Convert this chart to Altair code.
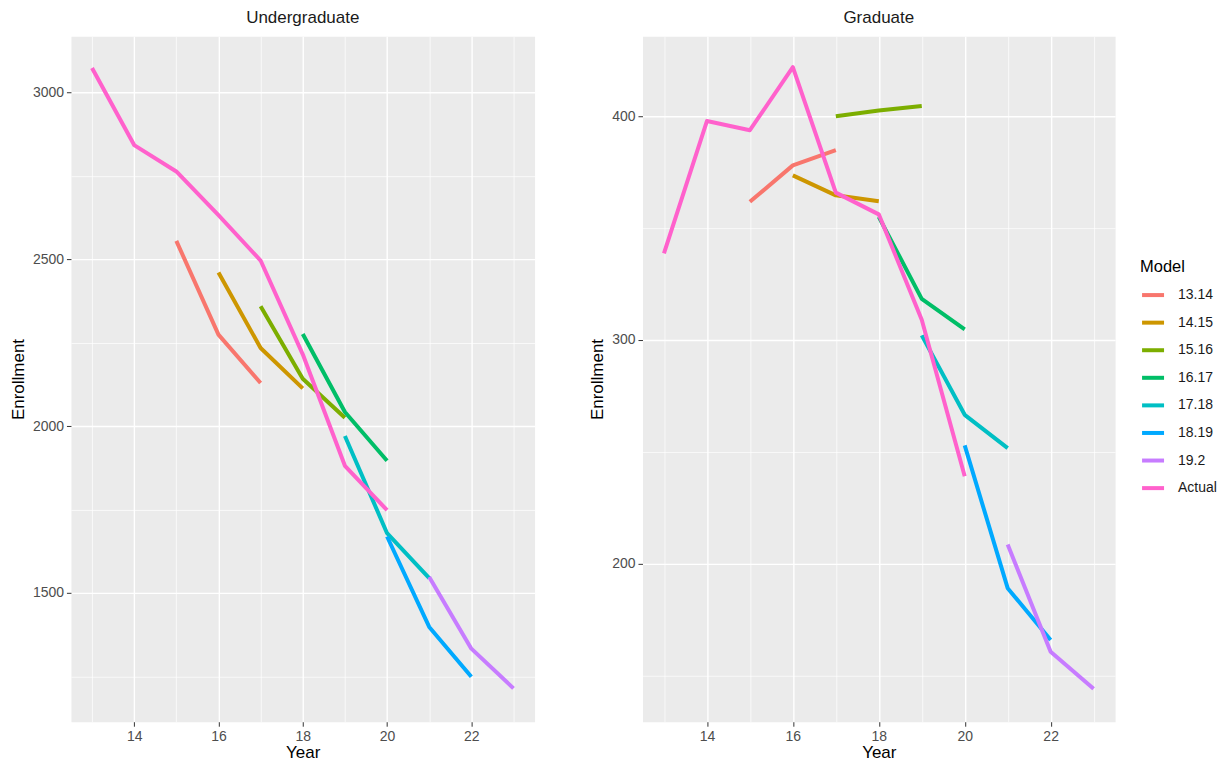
import altair as alt
import pandas as pd

models = ["13.14", "14.15", "15.16", "16.17", "17.18", "18.19", "19.2", "Actual"]
colors = ["#F8766D", "#CD9600", "#7CAE00", "#00BE67", "#00BFC4", "#00A9FF", "#C77CFF", "#FF61CC"]

years_1314 = [15, 16, 17]
years_1415 = [16, 17, 18]
years_1516 = [17, 18, 19]
years_1617 = [18, 19, 20]
years_1718 = [19, 20, 21]
years_1819 = [20, 21, 22]
years_192 = [21, 22, 23]
years_actual = [13, 14, 15, 16, 17, 18, 19, 20]

# Undergraduate
ug_1314 = [2555, 2274, 2129]
ug_1415 = [2460, 2234, 2113]
ug_1516 = [2359, 2142, 2025]
ug_1617 = [2276, 2042, 1896]
ug_1718 = [1970, 1679, 1544]
ug_1819 = [1669, 1398, 1249]
ug_192 = [1548, 1333, 1214]
ug_actual = [3073, 2842, 2763, 2632, 2496, 2215, 1881, 1748]

# Graduate
gr_1314 = [361.7, 378.0, 384.8]
gr_1415 = [373.5, 364.6, 362.0]
gr_1516 = [400.0, 402.5, 404.5]
gr_1617 = [355.0, 318.3, 304.7]
gr_1718 = [302.0, 266.5, 251.6]
gr_1819 = [252.8, 189.0, 165.8]
gr_192 = [208.5, 160.6, 144.0]
gr_actual = [338.7, 397.8, 393.7, 421.9, 365.8, 356.1, 309.0, 239.0]

x_grid = [13, 14, 15, 16, 17, 18, 19, 20, 21, 22, 23]
ug_grid = [1250, 1500, 1750, 2000, 2250, 2500, 2750, 3000]
gr_grid = [150, 200, 250, 300, 350, 400]

all_years = [years_1314, years_1415, years_1516, years_1617, years_1718, years_1819, years_192, years_actual]
ug_series = [ug_1314, ug_1415, ug_1516, ug_1617, ug_1718, ug_1819, ug_192, ug_actual]
gr_series = [gr_1314, gr_1415, gr_1516, gr_1617, gr_1718, gr_1819, gr_192, gr_actual]


def frame(series):
    rows = []
    for m, ys, vs in zip(models, all_years, series):
        for y, v in zip(ys, vs):
            rows.append({"Model": m, "Year": y, "Enrollment": v})
    return pd.DataFrame(rows)


df_ug = frame(ug_series)
df_gr = frame(gr_series)

FONT = "Liberation Sans"


def panel(df, title, domain, grid_vals, major_test, width):
    return alt.Chart(df, title=alt.Title(title, fontSize=17, font=FONT, fontWeight="normal",
                                         color="#1a1a1a", anchor="middle", offset=9)).mark_line(
        strokeWidth=4, strokeCap="butt", strokeJoin="round"
    ).encode(
        x=alt.X("Year:Q", title="Year",
                scale=alt.Scale(domain=[12.5, 23.5], nice=False, zero=False),
                axis=alt.Axis(values=x_grid, format="d",
                              labelExpr="datum.value % 2 === 0 ? datum.label : ''",
                              tickOpacity={"condition": {"test": "datum.value % 2 === 0", "value": 1}, "value": 0},
                              gridWidth={"condition": {"test": "datum.value % 2 === 0", "value": 1.4}, "value": 0.7})),
        y=alt.Y("Enrollment:Q", title="Enrollment",
                scale=alt.Scale(domain=domain, nice=False, zero=False),
                axis=alt.Axis(values=grid_vals, format="d",
                              labelExpr="(" + major_test + ") ? datum.label : ''",
                              tickOpacity={"condition": {"test": major_test, "value": 1}, "value": 0},
                              gridWidth={"condition": {"test": major_test, "value": 1.4}, "value": 0.7})),
        color=alt.Color("Model:N", scale=alt.Scale(domain=models, range=colors),
                        legend=alt.Legend(title="Model", orient="none", legendX=1070, legendY=223,
                                          symbolType="stroke", symbolSize=484, symbolStrokeWidth=4,
                                          rowPadding=6.6, labelFontSize=14, titleFontSize=16.5,
                                          titleFontWeight="normal", titleFont=FONT, labelFont=FONT,
                                          labelColor="#1a1a1a", titleColor="#000000",
                                          labelOffset=12, titlePadding=6.5)),
    ).properties(width=width, height=686)


left = panel(df_ug, "Undergraduate", [1114, 3168], ug_grid, "datum.value % 500 === 0", 464)
right = panel(df_gr, "Graduate", [129.3, 435.7], gr_grid, "datum.value % 100 === 0", 473)

chart = alt.hconcat(left, right, spacing=52).properties(
    padding={"left": 0, "top": 0, "right": 0, "bottom": 0}
).configure_view(
    fill="#EBEBEB", stroke="transparent"
).configure_axis(
    domain=False, grid=True, gridColor="#FFFFFF", tickColor="#333333", tickSize=4.5, tickWidth=1,
    labelColor="#4D4D4D", labelFont=FONT, labelFontSize=14, labelPadding=3,
    titleFont=FONT, titleFontSize=17, titleFontWeight="normal", titleColor="#000000"
).configure_axisX(titlePadding=1.5).configure_axisY(titlePadding=5)

chart.save("out.html", embed_options={"renderer": "svg", "actions": False})
